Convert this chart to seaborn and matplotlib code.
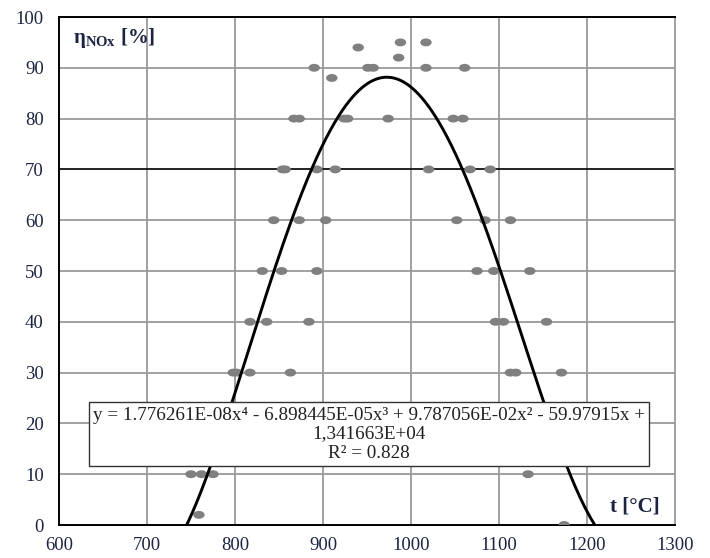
import numpy as np
import pandas as pd
import matplotlib
matplotlib.use("Agg")
import matplotlib.pyplot as plt
from matplotlib.path import Path
import seaborn as sns

# Measured NOx reduction efficiency vs. temperature
t_meas = [988, 1017, 940, 986,
          890, 951, 957, 1017, 1061, 910,
          867, 873, 924, 928, 974, 1048, 1059,
          854, 857, 893, 914, 1020, 1067, 1090,
          844, 873, 903, 1052, 1084, 1113,
          831, 853, 893, 1075, 1094, 1135,
          817, 836, 884, 1096, 1105, 1154,
          798, 802, 817, 863, 1113, 1119, 1171,
          750, 762, 775, 1133, 759, 1174]
eta_meas = [95, 95, 94, 92,
            90, 90, 90, 90, 90, 88,
            80, 80, 80, 80, 80, 80, 80,
            70, 70, 70, 70, 70, 70, 70,
            60, 60, 60, 60, 60, 60,
            50, 50, 50, 50, 50, 50,
            40, 40, 40, 40, 40, 40,
            30, 30, 30, 30, 30, 30, 30,
            10, 10, 10, 10, 2, 0]

# 4th-order polynomial trend (highest power first)
poly_coef = [1.776261e-08, -6.898445e-05, 9.787056e-02, -59.97915, 1.341663e+04]
r_squared = 0.828

x_ticks = [600, 700, 800, 900, 1000, 1100, 1200, 1300]
y_ticks = [0, 10, 20, 30, 40, 50, 60, 70, 80, 90, 100]

sns.set_theme(style="white")
plt.rcParams["font.family"] = ["Liberation Serif", "DejaVu Serif"]
plt.rcParams["mathtext.fontset"] = "custom"
plt.rcParams["mathtext.rm"] = "Liberation Serif"
plt.rcParams["mathtext.bf"] = "Liberation Serif:bold"

label_c = "#1c2442"

fig = plt.figure(figsize=(7.1, 5.58), dpi=100)
ax = fig.add_axes([59 / 710, 1 - 525 / 558, 616 / 710, 508 / 558])

ax.set_xlim(600, 1300)
ax.set_ylim(0, 100)
ax.set_xticks(x_ticks)
ax.set_yticks(y_ticks)

grid_c = "#9a9a9a"
for xv in x_ticks[1:-1]:
    ax.axvline(xv, color=grid_c, lw=1.3, zorder=0)
for yv in y_ticks[1:-1]:
    ax.axhline(yv, color="#111111" if yv == 70 else grid_c,
               lw=1.3, zorder=0)

for side in ["left", "bottom", "top"]:
    ax.spines[side].set_color("black")
    ax.spines[side].set_linewidth(1.4)
ax.spines["right"].set_color(grid_c)
ax.spines["right"].set_linewidth(1.3)

ax.tick_params(length=0, labelsize=13.5, labelcolor=label_c)
ax.tick_params(axis="x", pad=9)
ax.tick_params(axis="y", pad=11)

# Ellipse-shaped markers
circ = Path.unit_circle()
ellipse = Path(circ.vertices * np.array([1.45, 1.0]), circ.codes)

df = pd.DataFrame({"t": t_meas, "eta": eta_meas})
sns.scatterplot(data=df, x="t", y="eta", ax=ax, marker=ellipse, s=68,
                color="#808080", edgecolor="none", linewidth=0, zorder=3)

t_fit = np.linspace(735, 1220, 500)
fit = pd.DataFrame({"t": t_fit, "eta": np.polyval(poly_coef, t_fit)})
sns.lineplot(data=fit, x="t", y="eta", ax=ax, color="black", lw=2.1,
             zorder=4)

ax.set_xlabel("")
ax.set_ylabel("")

ax.text(616, 95.9, r"η$_{\mathbf{NOx}}$ [%]", fontsize=15, fontweight="bold",
        color=label_c, va="center", ha="left", zorder=6)
ax.text(1283, 3.6, "t [°C]", fontsize=15, fontweight="bold",
        color=label_c, va="center", ha="right", zorder=6)

eq = ("y = 1.776261E-08x\u2074 - 6.898445E-05x\u00b3 + 9.787056E-02x\u00b2 - 59.97915x +\n"
      "1,341663E+04\n"
      f"R\u00b2 = {r_squared:.3f}")
ax.text(952, 17.9, eq, fontsize=13.8, color="#202020", ha="center",
        va="center", multialignment="center", linespacing=1.15, zorder=7,
        bbox=dict(boxstyle="square,pad=0.22", facecolor="white",
                  edgecolor="#333333", linewidth=1.0))

fig.savefig("out.png", dpi=100, facecolor="white")
